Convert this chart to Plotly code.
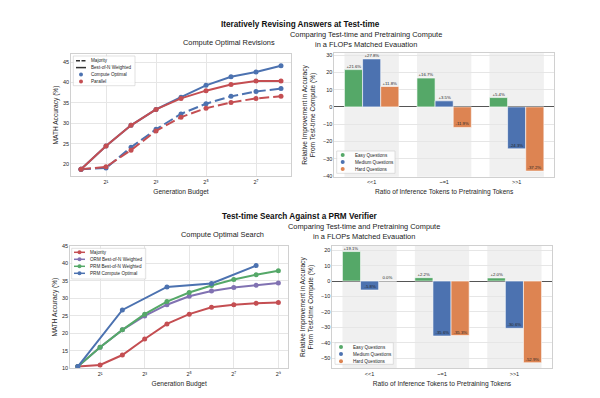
import plotly.graph_objects as go

# ---------------- data ----------------
budget_rev = [1, 2, 4, 8, 16, 32, 64, 128, 256]
rev_co_bon = [18.7, 24.4, 29.5, 33.4, 36.4, 39.3, 41.4, 42.6, 44.1]
rev_par_bon = [18.7, 24.4, 29.5, 33.4, 36.1, 38.0, 39.5, 40.4, 40.4]
rev_co_maj = [18.7, 19.0, 24.1, 28.5, 32.3, 34.8, 36.6, 37.8, 38.5]
rev_par_maj = [18.7, 19.3, 23.4, 28.1, 31.5, 33.7, 35.1, 36.1, 36.6]

budget_search = [1, 2, 4, 8, 16, 32, 64, 128, 256, 512]
search_majority = [10.5, 10.95, 13.8, 18.4, 22.7, 25.5, 27.45, 28.2, 28.6, 28.8]
search_orm_bon = [10.5, 16.0, 21.0, 25.0, 28.2, 30.6, 32.1, 33.1, 33.8, 34.4]
search_prm_bon = [10.5, 16.0, 21.0, 25.5, 29.1, 31.7, 33.7, 35.4, 36.8, 37.9]
budget_prm_co = [1, 4, 16, 64, 256]
search_prm_co = [10.5, 26.7, 33.3, 34.3, 39.4]

ratio_labels = ["<<1", "~=1", ">>1"]
difficulty_names = ["Easy Questions", "Medium Questions", "Hard Questions"]
rev_easy = [21.6, 16.7, 5.4]
rev_medium = [27.8, 3.5, -24.3]
rev_hard = [11.8, -11.9, -37.2]
search_easy = [19.1, 2.2, 2.0]
search_medium = [-5.8, -35.6, -30.6]
search_hard = [0.0, -35.3, -52.9]

rev_ticks = [2, 8, 32, 128]
rev_ticktext = ["2\u00b9", "2\u00b3", "2\u2075", "2\u2077"]
search_ticks = [2, 8, 32, 128, 512]
search_ticktext = ["2\u00b9", "2\u00b3", "2\u2075", "2\u2077", "2\u2079"]

# ---------------- style ----------------
BLUE = "#4C72B0"
RED = "#C44E52"
GREEN = "#55A868"
PURPLE = "#8172B2"
ORANGE = "#DD8452"
FONT = "Liberation Sans"
TXT = "#262626"
GRID = "#e6e6e6"
FRAME = "#d0d0d0"

W, H = 600, 398


def fx(p):
    return p / W


def fy(p):
    return 1 - p / H


fig = go.Figure()

# ---- top-left: revisions lines ----
for ys, col, dash in [(rev_co_maj, BLUE, "10px,4px"), (rev_par_maj, RED, "10px,4px"),
                      (rev_co_bon, BLUE, "solid"), (rev_par_bon, RED, "solid")]:
    fig.add_trace(go.Scatter(x=budget_rev, y=ys, mode="lines+markers", xaxis="x", yaxis="y",
                             line=dict(color=col, width=2, dash=dash),
                             marker=dict(color=col, size=5), showlegend=False, hoverinfo="skip"))

# ---- bottom-left: search lines ----
for xs, ys, col in [(budget_search, search_majority, RED), (budget_search, search_orm_bon, PURPLE),
                    (budget_search, search_prm_bon, GREEN), (budget_prm_co, search_prm_co, BLUE)]:
    fig.add_trace(go.Scatter(x=xs, y=ys, mode="lines+markers", xaxis="x3", yaxis="y3",
                             line=dict(color=col, width=2),
                             marker=dict(color=col, size=5), showlegend=False, hoverinfo="skip"))

# ---- bars ----
bar_cols = [GREEN, BLUE, ORANGE]
annots = []
for (xa, ya), series in [(("x2", "y2"), [rev_easy, rev_medium, rev_hard]),
                         (("x4", "y4"), [search_easy, search_medium, search_hard])]:
    for k, vals in enumerate(series):
        fig.add_trace(go.Bar(x=list(range(len(ratio_labels))), y=vals, xaxis=xa, yaxis=ya,
                             marker=dict(color=bar_cols[k], line=dict(color="white", width=0.6)),
                             offsetgroup=str(k), showlegend=False, hoverinfo="skip"))
        for i, v in enumerate(vals):
            lab = "0.0%" if v == 0 else f"{v:+.1f}%"
            annots.append(dict(x=i + (k - 1) * 0.25, y=v, xref=xa, yref=ya, text=lab,
                               showarrow=False, yanchor="bottom", xanchor="center", borderpad=0.5,
                               font=dict(size=4.3, color=TXT, family=FONT)))

# ---------------- axes ----------------
tick_font = dict(size=5.5, color=TXT, family=FONT)
title_font = dict(size=6.6, color=TXT, family=FONT)


def base_axis(**kw):
    d = dict(showgrid=True, gridcolor=GRID, gridwidth=0.8, showline=True, linecolor=FRAME,
             linewidth=0.8, mirror=True, ticks="", tickfont=tick_font, zeroline=False,
             automargin=False)
    d.update(kw)
    return d


L2 = 0.30103
layout_axes = dict(
    xaxis=base_axis(domain=[fx(71), fx(291)], anchor="y", type="log",
                    range=[-0.4 * L2, 8.4 * L2], tickvals=rev_ticks, ticktext=rev_ticktext,
                    title=dict(text="Generation Budget", font=title_font, standoff=5)),
    yaxis=base_axis(domain=[fy(176), fy(54)], anchor="x", range=[17.05, 47.0],
                    tickvals=[20, 25, 30, 35, 40, 45],
                    title=dict(text="MATH Accuracy (%)", font=title_font, standoff=3)),
    xaxis2=base_axis(domain=[fx(334.3), fx(554)], anchor="y2", range=[-0.515, 2.515],
                     tickvals=[0, 1, 2], ticktext=ratio_labels, showgrid=False,
                     title=dict(text="Ratio of Inference Tokens to Pretraining Tokens",
                                font=title_font, standoff=5)),
    yaxis2=base_axis(domain=[fy(176.7), fy(53.3)], anchor="x2", range=[-40.45, 31.05],
                     tickvals=[-40, -30, -20, -10, 0, 10, 20, 30],
                     zeroline=True, zerolinecolor="#555555", zerolinewidth=1,
                     title=dict(text="Relative Improvement in Accuracy<br>From Test-time Compute (%)",
                                font=title_font, standoff=6)),
    xaxis3=base_axis(domain=[fx(70), fx(288.4)], anchor="y3", type="log",
                     range=[-0.35 * L2, 9.45 * L2], tickvals=search_ticks, ticktext=search_ticktext,
                     title=dict(text="Generation Budget", font=title_font, standoff=5)),
    yaxis3=base_axis(domain=[fy(368.3), fy(246)], anchor="x3", range=[10, 45],
                     tickvals=[10, 15, 20, 25, 30, 35, 40, 45],
                     title=dict(text="MATH Accuracy (%)", font=title_font, standoff=3)),
    xaxis4=base_axis(domain=[fx(332.3), fx(551.7)], anchor="y4", range=[-0.515, 2.515],
                     tickvals=[0, 1, 2], ticktext=ratio_labels, showgrid=False,
                     title=dict(text="Ratio of Inference Tokens to Pretraining Tokens",
                                font=title_font, standoff=5)),
    yaxis4=base_axis(domain=[fy(368.3), fy(246)], anchor="x4", range=[-56.5, 22.7],
                     tickvals=[-50, -40, -30, -20, -10, 0, 10, 20],
                     zeroline=True, zerolinecolor="#555555", zerolinewidth=1,
                     title=dict(text="Relative Improvement in Accuracy<br>From Test-time Compute (%)",
                                font=title_font, standoff=6)),
)

shapes = []
# gray bands behind bar groups
for xa, ya in [("x2", "y2"), ("x4", "y4")]:
    for i in range(len(ratio_labels)):
        shapes.append(dict(type="rect", xref=xa, yref=f"{ya} domain", x0=i - 0.375, x1=i + 0.375,
                           y0=0, y1=1, fillcolor="#f0f0f0", line=dict(width=0), layer="below"))


# ---------------- custom compact legends ----------------
def legend(box, y_start, step, key_x, key_half, text_x, items, fsize=4.6):
    bx0, by0, bx1, by1 = box
    shapes.append(dict(type="rect", xref="paper", yref="paper", x0=fx(bx0), x1=fx(bx1),
                       y0=fy(by1), y1=fy(by0), fillcolor="rgba(255,255,255,0.85)",
                       line=dict(color="#cccccc", width=0.6)))
    for n, (name, color, kind) in enumerate(items):
        yy = y_start + n * step
        if kind in ("line", "dash", "linemarker"):
            shapes.append(dict(type="line", xref="paper", yref="paper",
                               x0=fx(key_x - key_half), x1=fx(key_x + key_half),
                               y0=fy(yy), y1=fy(yy),
                               line=dict(color=color, width=1.5,
                                         dash="4px,1.5px" if kind == "dash" else "solid")))
        if kind in ("marker", "linemarker"):
            r = 2.0
            shapes.append(dict(type="circle", xref="paper", yref="paper",
                               x0=fx(key_x - r), x1=fx(key_x + r), y0=fy(yy + r), y1=fy(yy - r),
                               fillcolor=color, line=dict(width=0)))
        annots.append(dict(x=fx(text_x), y=fy(yy), xref="paper", yref="paper", text=name,
                           showarrow=False, xanchor="left", yanchor="middle",
                           font=dict(size=fsize, color=TXT, family=FONT)))


legend((73.3, 56, 135, 85.7), 60.7, 6.9, 81, 5, 89.3,
       [("Majority", "#333333", "dash"), ("Best-of-N Weighted", "#333333", "line"),
        ("Compute Optimal", BLUE, "marker"), ("Parallel", RED, "marker")])
legend((336.7, 151, 395, 173.3), 155, 7, 342.7, 0, 352.7,
       [(difficulty_names[k], bar_cols[k], "marker") for k in range(3)])
legend((71.7, 248.3, 145.7, 279), 252.3, 7, 79.5, 5.5, 87.7,
       [("Majority", RED, "linemarker"), ("ORM Best-of-N Weighted", PURPLE, "linemarker"),
        ("PRM Best-of-N Weighted", GREEN, "linemarker"), ("PRM Compute Optimal", BLUE, "linemarker")])
legend((335, 342.7, 393.3, 364.3), 347, 7.1, 341, 0, 350.7,
       [(difficulty_names[k], bar_cols[k], "marker") for k in range(3)])

# ---------------- titles ----------------
sup_font = dict(size=8.2, color="#111111", family=FONT)
sub_font = dict(size=7.4, color="#1a1a1a", family=FONT)
annots += [
    dict(x=0.5, y=fy(25), xref="paper", yref="paper", text="<b>Iteratively Revising Answers at Test-time</b>",
         showarrow=False, font=sup_font, yanchor="middle"),
    dict(x=0.5, y=fy(216.5), xref="paper", yref="paper", text="<b>Test-time Search Against a PRM Verifier</b>",
         showarrow=False, font=sup_font, yanchor="middle"),
    dict(x=fx(181), y=fy(43), xref="paper", yref="paper", text="Compute Optimal Revisions",
         showarrow=False, font=sub_font, yanchor="middle"),
    dict(x=fx(444), y=fy(39.5), xref="paper", yref="paper",
         text="Comparing Test-time and Pretraining Compute<br>in a FLOPs Matched Evauation",
         showarrow=False, font=sub_font, yanchor="middle"),
    dict(x=fx(179), y=fy(235), xref="paper", yref="paper", text="Compute Optimal Search",
         showarrow=False, font=sub_font, yanchor="middle"),
    dict(x=fx(442), y=fy(231.5), xref="paper", yref="paper",
         text="Comparing Test-time and Pretraining Compute<br>in a FLOPs Matched Evauation",
         showarrow=False, font=sub_font, yanchor="middle"),
]

fig.update_layout(
    template="none",
    width=W, height=H, margin=dict(l=0, r=0, t=0, b=0, pad=0),
    paper_bgcolor="white", plot_bgcolor="white",
    barmode="group", bargap=0.25, bargroupgap=0,
    font=dict(family=FONT, color=TXT),
    showlegend=False, shapes=shapes, annotations=annots, hovermode=False,
    **layout_axes,
)

fig.write_html("out.html", config={"displayModeBar": False},
               post_script="document.body.style.margin='0px';")
